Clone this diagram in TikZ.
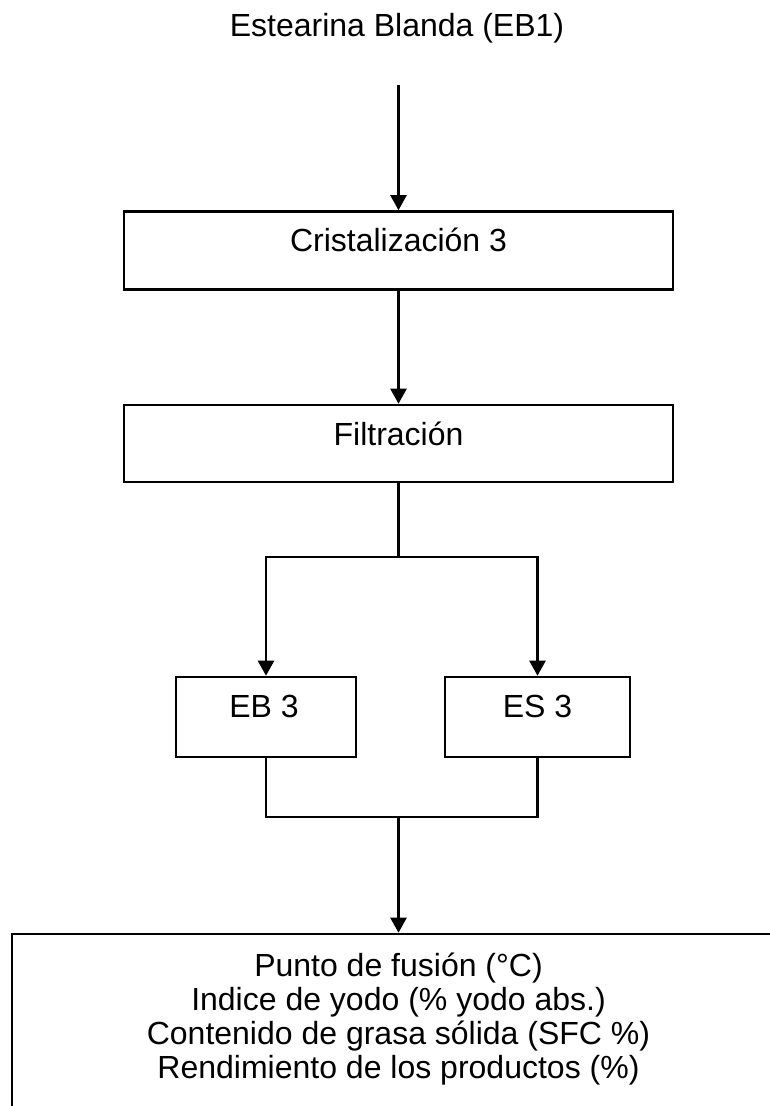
\documentclass[tikz,border=0pt]{standalone}
\usepackage{fontspec}
\setmainfont{Liberation Sans}
\usetikzlibrary{arrows.meta}
\begin{document}
\begin{tikzpicture}[x=1pt,y=-1pt,
  line width=2.4pt,
  box/.style={draw, line width=2.6pt, inner sep=0pt},
  lbl/.style={font=\fontsize{32}{34}\selectfont, anchor=base, inner sep=0pt},
  arr/.style={-{Triangle[width=16pt,length=15pt]}, line width=2.4pt}]
\useasboundingbox (0,0) rectangle (770,1106);
\node[lbl] (title) at (397,36) {Estearina Blanda (EB1)};
\coordinate (start) at (398.5,85);
\node[box, minimum width=549pt, minimum height=78pt] (c3) at (398.5,250.5) {};
\node[lbl] (c3t) at (398.5,251) {Cristalización 3};
\node[box, minimum width=549pt, minimum height=77pt] (fil) at (398.5,443.5) {};
\node[lbl] (filt) at (398.5,445) {Filtración};
\coordinate (split) at (398.5,557);
\node[box, minimum width=180pt, minimum height=80pt] (eb) at (266,717) {};
\node[lbl] (ebt) at (264,717) {EB 3};
\node[box, minimum width=185pt, minimum height=80pt] (es) at (537.5,717) {};
\node[lbl] (est) at (537.5,717) {ES 3};
\coordinate (join) at (398.5,817);
\node[box, minimum width=800pt, minimum height=216pt] (res) at (412,1042) {};
\node[lbl, anchor=north, align=center] (rest) at (398.5,952)
  {Punto de fusión (°C)\\Indice de yodo (\% yodo abs.)\\Contenido de grasa sólida (SFC \%)\\Rendimiento de los productos (\%)};
\draw[arr] (start) -- (c3.north);
\draw[arr] (c3.south) -- (fil.north);
\draw (fil.south) -- (split);
\draw[arr] (split) -| (eb.north);
\draw[arr] (split) -| (es.north);
\draw (eb.south) |- (join);
\draw (es.south) |- (join);
\draw[arr] (join) -- (join |- res.north);
\end{tikzpicture}
\end{document}
